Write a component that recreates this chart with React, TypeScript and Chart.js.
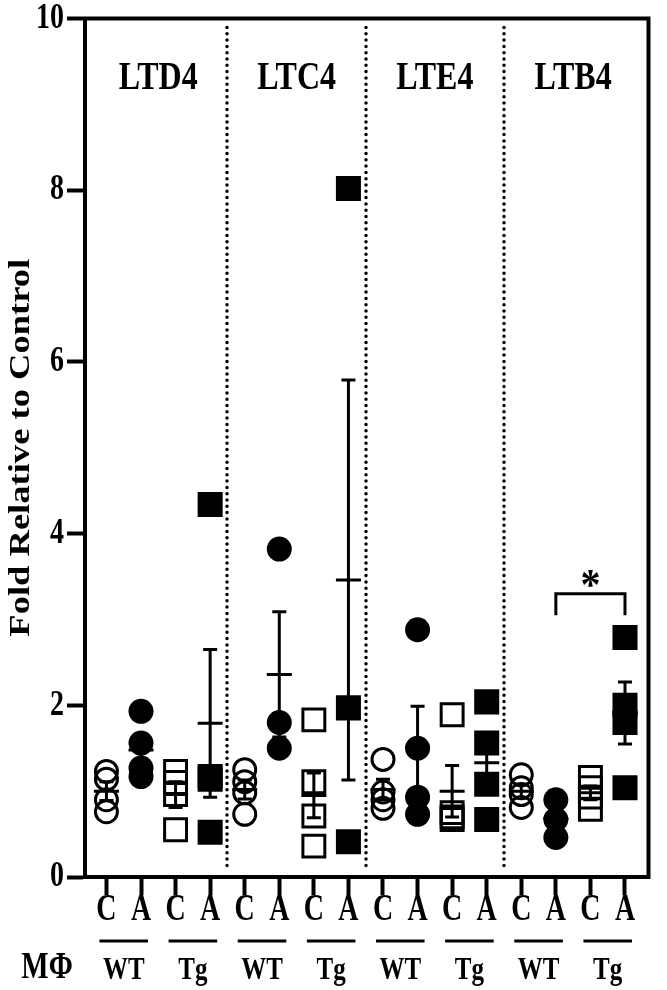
import React, { useEffect, useRef } from "react";
import { Chart, registerables } from "chart.js";

Chart.register(...registerables);

// ---------- data ----------
const mediators = ["LTD4", "LTC4", "LTE4", "LTB4"];
const treatments = ["C", "A", "C", "A"];
const genotypes = ["WT", "Tg"];
const yTickValues = [0, 2, 4, 6, 8, 10];
const yTitle = "Fold Relative to Control";
const cellLabel = "MΦ";

// columns inside each mediator: WT C, WT A, Tg C, Tg A
const ltd4Points = [
  [1.23, 1.14, 0.9, 0.76],
  [1.93, 1.56, 1.27, 1.17],
  [1.23, 1.1, 0.96, 0.55],
  [4.34, 1.17, 1.14, 0.52],
];
const ltd4Mean = [1.0, 1.48, 0.96, 1.79];
const ltd4Sem = [0.11, 0.17, 0.15, 0.86];

const ltc4Points = [
  [1.25, 1.11, 0.98, 0.73],
  [3.82, 1.8, 1.5],
  [1.83, 1.11, 0.71, 0.36],
  [8.02, 1.97, 0.41],
];
const ltc4Mean = [1.02, 2.36, 0.95, 3.46];
const ltc4Sem = [0.11, 0.73, 0.26, 2.33];

const lte4Points = [
  [1.37, 0.99, 0.9, 0.8],
  [2.88, 1.5, 0.93, 0.73],
  [1.89, 0.75, 0.7, 0.67],
  [2.04, 1.56, 1.08, 0.67],
];
const lte4Mean = [1.02, 1.51, 1.0, 1.33];
const lte4Sem = [0.12, 0.48, 0.3, 0.29];

const ltb4Points = [
  [1.19, 1.04, 0.96, 0.81],
  [0.9, 0.67, 0.46],
  [1.16, 1.04, 0.93, 0.79],
  [2.79, 2.0, 1.8, 1.04],
];
const ltb4Mean = [1.0, 0.68, 0.98, 1.91];
const ltb4Sem = [0.08, 0.13, 0.08, 0.36];

const sigColumns = [13, 15];
const sigLevel = 3.3;
const sigDrop = 3.05;
const sigLabel = "*";

// ---------- styles ----------
const FONT = "'Liberation Serif', 'Times New Roman', serif";
const BLACK = "#000000";
const markerStyles = [
  { pointStyle: "circle", radius: 11, fill: false, border: 3 },
  { pointStyle: "circle", radius: 12.5, fill: true, border: 0 },
  { pointStyle: "rect", radius: 15.5, fill: false, border: 3 },
  { pointStyle: "rect", radius: 17.7, fill: true, border: 0 },
];

const allPoints = [ltd4Points, ltc4Points, lte4Points, ltb4Points];
const allMeans = [ltd4Mean, ltc4Mean, lte4Mean, ltb4Mean];
const allSems = [ltd4Sem, ltc4Sem, lte4Sem, ltb4Sem];
const columnCount = mediators.length * treatments.length;

// the original lettering is tall and narrow: draw text stretched vertically
function drawText(
  ctx: CanvasRenderingContext2D,
  text: string,
  x: number,
  y: number,
  size: number,
  align: CanvasTextAlign,
  stretch = 1.28,
  rotate = false
) {
  ctx.save();
  ctx.translate(x, y);
  if (rotate) {
    ctx.rotate(-Math.PI / 2);
    ctx.scale(stretch, 1);
  } else {
    ctx.scale(1, stretch);
  }
  ctx.font = `bold ${size}px ${FONT}`;
  ctx.textAlign = align;
  ctx.textBaseline = "middle";
  ctx.fillStyle = BLACK;
  ctx.fillText(text, 0, 0);
  ctx.restore();
}

const decorPlugin = {
  id: "decor",
  beforeDatasetsDraw(chart: any) {
    const { ctx, chartArea, scales } = chart;
    const x = scales.x;
    ctx.save();
    ctx.strokeStyle = BLACK;
    ctx.lineWidth = 3.5;
    ctx.lineCap = "round";
    ctx.setLineDash([0, 6.3]);
    for (let g = 1; g < mediators.length; g++) {
      const px = Math.round(x.getPixelForValue(g * 4 - 0.5));
      ctx.beginPath();
      ctx.moveTo(px, chartArea.top + 9);
      ctx.lineTo(px, chartArea.bottom - 7);
      ctx.stroke();
    }
    ctx.restore();
  },
  afterDatasetsDraw(chart: any) {
    const { ctx, scales } = chart;
    const x = scales.x;
    const y = scales.y;
    ctx.save();
    ctx.strokeStyle = BLACK;
    ctx.lineWidth = 3;
    ctx.lineCap = "butt";
    allMeans.forEach((means, g) => {
      means.forEach((m, k) => {
        const s = allSems[g][k];
        const px = x.getPixelForValue(g * 4 + k);
        const pm = y.getPixelForValue(m);
        const pt = y.getPixelForValue(m + s);
        const pb = y.getPixelForValue(Math.max(0, m - s));
        ctx.beginPath();
        ctx.moveTo(px, pt);
        ctx.lineTo(px, pb);
        ctx.moveTo(px - 7, pt);
        ctx.lineTo(px + 7, pt);
        ctx.moveTo(px - 7, pb);
        ctx.lineTo(px + 7, pb);
        ctx.moveTo(px - 12.5, pm);
        ctx.lineTo(px + 12.5, pm);
        ctx.stroke();
      });
    });
    ctx.restore();
  },
  afterDraw(chart: any) {
    const { ctx, chartArea, scales } = chart;
    const x = scales.x;
    const y = scales.y;
    ctx.save();
    ctx.strokeStyle = BLACK;
    ctx.fillStyle = BLACK;
    // top & right frame
    ctx.lineWidth = 4;
    ctx.beginPath();
    ctx.moveTo(chartArea.left - 2, chartArea.top);
    ctx.lineTo(chartArea.right, chartArea.top);
    ctx.lineTo(chartArea.right, chartArea.bottom + 2);
    ctx.stroke();

    // y tick labels (generated by the y scale)
    y.ticks.forEach((t: any, i: number) => {
      drawText(ctx, String(t.label), chartArea.left - 21, y.getPixelForTick(i), 28, "right");
    });
    // x tick labels (generated by the x scale)
    x.ticks.forEach((t: any, i: number) => {
      drawText(ctx, String(t.label), x.getPixelForTick(i), 910, 28, "center", 1.32);
    });
    // y title
    drawText(ctx, yTitle, 22, (chartArea.top + chartArea.bottom) / 2, 29, "center", 1.26, true);

    // mediator labels
    mediators.forEach((name, g) => {
      drawText(ctx, name, x.getPixelForValue(g * 4 + 1.5), 78, 32, "center");
    });

    // significance bracket
    const bx1 = x.getPixelForValue(sigColumns[0]);
    const bx2 = x.getPixelForValue(sigColumns[1]);
    const by = y.getPixelForValue(sigLevel);
    const bd = y.getPixelForValue(sigDrop);
    ctx.lineWidth = 3;
    ctx.beginPath();
    ctx.moveTo(bx1, bd);
    ctx.lineTo(bx1, by);
    ctx.lineTo(bx2, by);
    ctx.lineTo(bx2, bd);
    ctx.stroke();
    drawText(ctx, sigLabel, (bx1 + bx2) / 2, by - 6, 40, "center", 1.1);

    // genotype underlines and labels
    for (let g = 0; g < mediators.length; g++) {
      genotypes.forEach((gt, j) => {
        const c1 = x.getPixelForValue(g * 4 + j * 2);
        const c2 = x.getPixelForValue(g * 4 + j * 2 + 1);
        ctx.lineWidth = 3;
        ctx.beginPath();
        ctx.moveTo(c1 - 7, 941);
        ctx.lineTo(c2 + 7, 941);
        ctx.stroke();
        drawText(ctx, gt, (c1 + c2) / 2, 971, 25, "center");
      });
    }
    drawText(ctx, cellLabel, 47, 968, 29, "center");
    ctx.restore();
  },
};

export default function App() {
  const canvasRef = useRef<HTMLCanvasElement | null>(null);

  useEffect(() => {
    const canvas = canvasRef.current;
    if (!canvas) return;

    const datasets = markerStyles.map((m, k) => ({
      label: `series ${k}`,
      data: allPoints.flatMap((group, g) =>
        group[k].map((v) => ({ x: g * 4 + k, y: v }))
      ),
      showLine: false,
      pointStyle: m.pointStyle,
      pointRadius: m.radius,
      pointHoverRadius: m.radius,
      pointBorderWidth: m.border,
      pointBorderColor: BLACK,
      pointBackgroundColor: m.fill ? BLACK : "rgba(0,0,0,0)",
    }));

    const chart = new Chart(canvas, {
      type: "scatter",
      data: { datasets },
      options: {
        animation: false,
        responsive: false,
        devicePixelRatio: 1,
        events: [],
        layout: { padding: { top: 14, right: 6, left: 0, bottom: 0 } },
        plugins: { legend: { display: false }, tooltip: { enabled: false } },
        scales: {
          x: {
            type: "linear",
            min: -0.62,
            max: 15.68,
            afterBuildTicks: (s: any) => {
              s.ticks = Array.from({ length: columnCount }, (_, i) => ({ value: i }));
            },
            afterFit: (s: any) => {
              s.height = 113;
            },
            ticks: {
              display: false,
              autoSkip: false,
              maxRotation: 0,
              callback: (v: any) => treatments[Number(v) % 4],
            },
            grid: {
              drawOnChartArea: false,
              drawTicks: true,
              tickLength: 18,
              tickWidth: 4,
              tickColor: BLACK,
              color: BLACK,
            },
            border: { display: true, width: 4, color: BLACK },
          },
          y: {
            type: "linear",
            min: 0,
            max: 10,
            afterBuildTicks: (s: any) => {
              s.ticks = yTickValues.map((v) => ({ value: v }));
            },
            afterFit: (s: any) => {
              s.width = 85;
            },
            ticks: { display: false },
            grid: {
              drawOnChartArea: false,
              drawTicks: true,
              tickLength: 18,
              tickWidth: 4,
              tickColor: BLACK,
              color: BLACK,
            },
            border: { display: true, width: 4, color: BLACK },
          },
        },
      },
      plugins: [decorPlugin],
    } as any);

    return () => chart.destroy();
  }, []);

  return (
    <div style={{ position: "absolute", left: 0, top: 0, width: 667, height: 990, background: "#fff" }}>
      <canvas ref={canvasRef} width={667} height={990} style={{ display: "block" }} />
    </div>
  );
}
